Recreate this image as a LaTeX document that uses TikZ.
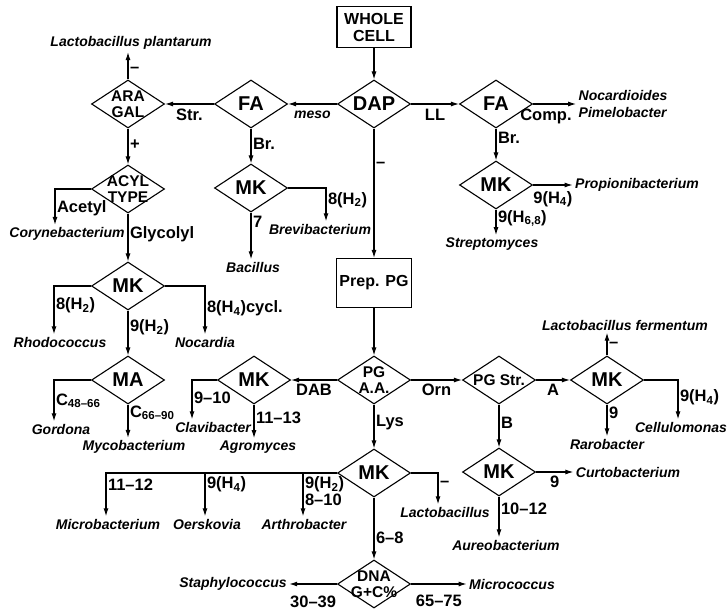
\documentclass[tikz,border=0pt]{standalone}
\usepackage{fontspec}
\setmainfont{Liberation Sans}
\usetikzlibrary{arrows.meta, positioning, shapes.geometric}

\begin{document}
\begin{tikzpicture}[x=1pt, y=1pt, on grid,
            dia/.style={draw, diamond, aspect=1.5, inner sep=-5pt, minimum width=73pt, minimum height=48pt, font=\bfseries\fontsize{20}{20}\selectfont},
            dia2/.style={dia, align=center, font=\bfseries\fontsize{15.5}{15.5}\selectfont},
            box/.style={draw, rectangle, align=center, font=\bfseries\fontsize{16}{17}\selectfont},
            taxon/.style={font=\bfseries\itshape\fontsize{14}{17}\selectfont, inner sep=2pt},
            lbl/.style={font=\bfseries\fontsize{16.5}{17}\selectfont, inner sep=1.5pt},
            line width=1.1pt, >={Latex[length=8pt, width=5pt]}]
          \useasboundingbox (0,0) rectangle (727,-612);
          \node[box, minimum width=74pt, minimum height=41pt] (cell) at (374,-27) {WHOLE\\CELL};
          \node[dia, below=77pt of cell] (dap) {DAP};
          \node[dia, left=123pt of dap] (fameso) {FA};
          \node[dia2, left=123pt of fameso] (aragal) {ARA\\GAL};
          \node[dia, right=122pt of dap] (fall) {FA};
          \node[dia2, below=85pt of aragal] (acyl) {ACYL\\TYPE};
          \node[dia, below=97pt of acyl] (mkgly) {MK};
          \node[dia, below=94pt of mkgly] (ma) {MA};
          \node[dia, below=84pt of fameso] (mkbr) {MK};
          \node[dia, below=81pt of fall] (mkstr) {MK};
          \node[box, minimum width=75pt, minimum height=49pt, below=179pt of dap] (prep) {Prep. PG};
          \node[dia2, below=97pt of prep] (pgaa) {PG\\A.A.};
          \node[dia, left=120pt of pgaa] (mkdab) {MK};
          \node[dia2, right=125pt of pgaa] (pgstr) {PG Str.};
          \node[dia, right=108pt of pgstr] (mkorn) {MK};
          \node[dia, below=92pt of pgstr] (mkb) {MK};
          \node[dia, below=93pt of pgaa] (mklys) {MK};
          \node[dia2, below=111pt of mklys] (dna) {DNA\\G+C\%};
          \node[taxon, above right=61pt and 3pt of aragal] (plantarum) {Lactobacillus plantarum};
          \node[taxon, below left=45pt and 61pt of acyl] (coryne) {Corynebacterium};
          \node[taxon, below left=56pt and 68pt of mkgly] (rhodo) {Rhodococcus};
          \node[taxon, below right=56pt and 77pt of mkgly] (nocardia) {Nocardia};
          \node[taxon, below left=49pt and 67pt of ma] (gordona) {Gordona};
          \node[taxon, below right=67pt and 6pt of ma] (myco) {Mycobacterium};
          \node[taxon, below right=41pt and 69pt of mkbr] (brevi) {Brevibacterium};
          \node[taxon, below right=79pt and 2pt of mkbr] (bacillus) {Bacillus};
          \node[taxon, align=left, right=127pt of fall] (nocardioides) {Nocardioides\\Pimelobacter};
          \node[taxon, right=141pt of mkstr] (propioni) {Propionibacterium};
          \node[taxon, below left=59pt and 4pt of mkstr] (strepto) {Streptomyces};
          \node[taxon, above right=55pt and 18pt of mkorn] (fermentum) {Lactobacillus fermentum};
          \node[taxon, below right=47pt and 74pt of mkorn] (cellulo) {Cellulomonas};
          \node[taxon, below=64pt of mkorn] (raro) {Rarobacter};
          \node[taxon, right=129pt of mkb] (curto) {Curtobacterium};
          \node[taxon, below right=73pt and 7pt of mkb] (aureo) {Aureobacterium};
          \node[taxon, below left=47pt and 41pt of mkdab] (clavi) {Clavibacter};
          \node[taxon, below right=67pt and 4pt of mkdab] (agro) {Agromyces};
          \node[taxon, below right=39pt and 71pt of mklys] (lacto) {Lactobacillus};
          \node[taxon, below left=51pt and 266pt of mklys] (micro) {Microbacterium};
          \node[taxon, below left=51pt and 167pt of mklys] (oersk) {Oerskovia};
          \node[taxon, below left=51pt and 70pt of mklys] (arthro) {Arthrobacter};
          \node[taxon, left=141pt of dna] (staph) {Staphylococcus};
          \node[taxon, right=138pt of dna] (micrococ) {Micrococcus};
          \draw[->] (cell) -- (dap);
          \draw[->] (dap) -- node[taxon, below=4pt] {meso} (fameso);
          \draw[->] (dap) -- node[lbl, below=3pt] {LL} (fall);
          \draw[->] (fameso) -- node[lbl, below=3pt] {Str.} (aragal);
          \draw[->] (aragal) -- node[lbl, right, pos=.35] {–} (aragal.north |- plantarum.south);
          \draw[->] (aragal) -- node[lbl, right, pos=.46] {+} (acyl);
          \draw[->] (acyl.west) -| node[lbl, right, pos=.77] {Acetyl} ([xshift=-12pt]coryne.north);
          \draw[->] (acyl) -- node[lbl, right, pos=.43] {Glycolyl} (mkgly);
          \draw[->] (mkgly.west) -| node[lbl, right, pos=.7] {8(H\textsubscript{2})} ([xshift=-6pt]rhodo.north);
          \draw[->] (mkgly.east) -| node[lbl, right, pos=.73] {8(H\textsubscript{4})cycl.} (nocardia.north);
          \draw[->] (mkgly) -- node[lbl, right, pos=.37] {9(H\textsubscript{2})} (ma);
          \draw[->] (ma.west) -| node[lbl, right, pos=.75] {C\textsubscript{48–66}} ([xshift=-7pt]gordona.north);
          \draw[->] (ma) -- node[lbl, right, pos=.25] {C\textsubscript{66–90}} (ma.south |- myco.north);
          \draw[->] (fameso) -- node[lbl, right, pos=.44] {Br.} (mkbr);
          \draw[->] (mkbr.east) -| node[lbl, right, pos=.68] {8(H\textsubscript{2})} ([xshift=6pt]brevi.north);
          \draw[->] (mkbr) -- node[lbl, right, pos=.2] {7} (mkbr.south |- bacillus.north);
          \draw[->] (fall) -- node[lbl, below=3pt, pos=.3] {Comp.} (nocardioides);
          \draw[->] (fall) -- node[lbl, right, pos=.3] {Br.} (mkstr);
          \draw[->] (mkstr) -- node[lbl, below=4pt] {9(H\textsubscript{4})} (propioni);
          \draw[->] (mkstr) -- node[lbl, right, pos=.35] {9(H\textsubscript{6,8})} (mkstr.south |- strepto.north);
          \draw[->] (dap) -- node[lbl, right, pos=.28] {–} (prep);
          \draw[->] (prep) -- (pgaa);
          \draw[->] (pgaa) -- node[lbl, below=2pt] {DAB} (mkdab);
          \draw[->] (mkdab.west) -| node[lbl, right, pos=.73] {9–10} ([xshift=-21pt]clavi.north);
          \draw[->] (mkdab) -- node[lbl, right, pos=.38] {11–13} (mkdab.south |- agro.north);
          \draw[->] (pgaa) -- node[lbl, below=2pt] {Orn} (pgstr);
          \draw[->] (pgstr) -- node[lbl, below=2pt] {A} (mkorn);
          \draw[->] (mkorn) -- node[lbl, right, pos=.45] {–} (mkorn.north |- fermentum.south);
          \draw[->] (mkorn.east) -| node[lbl, right, pos=.72] {9(H\textsubscript{4})} ([xshift=-3pt]cellulo.north);
          \draw[->] (mkorn) -- node[lbl, right, pos=.25] {9} (mkorn.south |- raro.north);
          \draw[->] (pgstr) -- node[lbl, right, pos=.43] {B} (mkb);
          \draw[->] (mkb) -- node[lbl, below=2pt] {9} (curto);
          \draw[->] (mkb) -- node[lbl, right, pos=.3] {10–12} (mkb.south |- aureo.north);
          \draw[->] (pgaa) -- node[lbl, right, pos=.42] {Lys} (mklys);
          \draw[->] (mklys.east) -| node[lbl, right, pos=.67] {–} ([xshift=-7pt]lacto.north);
          \draw[->] (mklys.west) -| node[lbl, right, pos=.63] {11–12} ([xshift=-2pt]micro.north);
          \draw[->] (mklys.west) -| node[lbl, right, pos=.63] {9(H\textsubscript{4})} ([xshift=-2pt]oersk.north);
          \draw[->] (mklys.west) -| node[lbl, right, pos=.71, align=left] {9(H\textsubscript{2})\\8–10} ([xshift=-1pt]arthro.north);
          \draw[->] (mklys) -- node[lbl, right, pos=.65] {6–8} (dna);
          \draw[->] (dna) -- node[lbl, below=10pt] {30–39} (staph);
          \draw[->] (dna) -- node[lbl, below=9pt] {65–75} (micrococ);
        \end{tikzpicture}
\end{document}
